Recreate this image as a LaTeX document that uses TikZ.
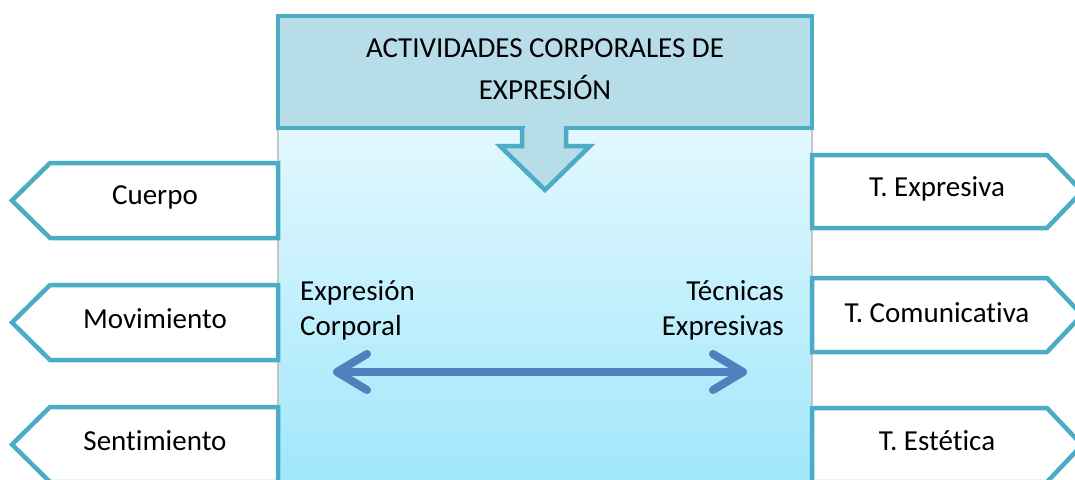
\documentclass[tikz,border=0pt]{standalone}
\usepackage{fontspec}
\setmainfont{Carlito}[Ligatures={NoCommon}]
\usepackage{xcolor}
\usepackage{tikz}
\usetikzlibrary{arrows.meta}
\definecolor{tealline}{HTML}{4BACC6}
\definecolor{headfill}{HTML}{B7DDE8}
\definecolor{bodytop}{HTML}{E2F8FE}
\definecolor{bodybot}{HTML}{9FE6FB}
\definecolor{arrowblue}{HTML}{4F81BD}

\begin{document}
\begin{tikzpicture}[x=1pt, y=-1pt,
  tag/.style={draw=tealline, line width=4.5pt, fill=white, line join=miter},
  lbl/.style={font=\fontsize{29}{35}\selectfont, inner sep=0pt}]
\useasboundingbox (0,0) rectangle (1075,479);
\clip (0,0) rectangle (1075,479);

% body panel (gradient)
\shade[top color=bodytop, bottom color=bodybot, draw=gray!45, line width=1.5pt] (278,128) rectangle (812,495);

% left tags
\draw[tag] (278,163) -- (50,163) -- (12,200.5) -- (50,238) -- (278,238) -- cycle;
\node[lbl] (cuerpo) at (155,197) {Cuerpo};
\draw[tag] (278,285) -- (50,285) -- (12,322.5) -- (50,360) -- (278,360) -- cycle;
\node[lbl] (movimiento) at (155,319) {Movimiento};
\draw[tag] (278,407) -- (50,407) -- (12,444.5) -- (50,482) -- (278,482) -- cycle;
\node[lbl] (sentimiento) at (155,441) {Sentimiento};

% right tags
\draw[tag] (812,155) -- (1047,155) -- (1082,191.5) -- (1047,228) -- (812,228) -- cycle;
\node[lbl] (texpresiva) at (937,189) {T. Expresiva};
\draw[tag] (812,278) -- (1047,278) -- (1082,315) -- (1047,352) -- (812,352) -- cycle;
\node[lbl] (tcomunicativa) at (937,313) {T. Comunicativa};
\draw[tag] (812,408) -- (1047,408) -- (1082,445) -- (1047,482) -- (812,482) -- cycle;
\node[lbl] (testetica) at (937,441) {T. Estética};

% title box with down arrow
\draw[fill=headfill, draw=tealline, line width=4.5pt] (278,16) rectangle (812,128);
\filldraw[fill=headfill, draw=tealline, line width=4.5pt, line join=miter]
  (522,128) -- (522,146) -- (500,146) -- (545,190) -- (590,146) -- (566,146) -- (566,128);
\fill[headfill] (524.5,124) rectangle (563.5,131);
\node[lbl, align=center, font=\fontsize{29}{42}\selectfont] (titulo) at (545,69)
  {ACTIVIDADES CORPORALES DE\\EXPRESIÓN};

% labels inside the panel
\node[lbl, align=left, anchor=west] (exprcorp) at (300,310) {Expresión\\Corporal};
\node[lbl, align=right, anchor=east] (tecexpr) at (784,310) {Técnicas\\Expresivas};

% double arrow
\coordinate (izq) at (333,372);
\coordinate (der) at (747,372);
\draw[arrowblue, line width=8pt,
  {Straight Barb[length=30pt, width=36pt, line cap=round, line join=round]}-{Straight Barb[length=30pt, width=36pt, line cap=round, line join=round]}]
  (izq) -- (der);
\end{tikzpicture}
\end{document}
